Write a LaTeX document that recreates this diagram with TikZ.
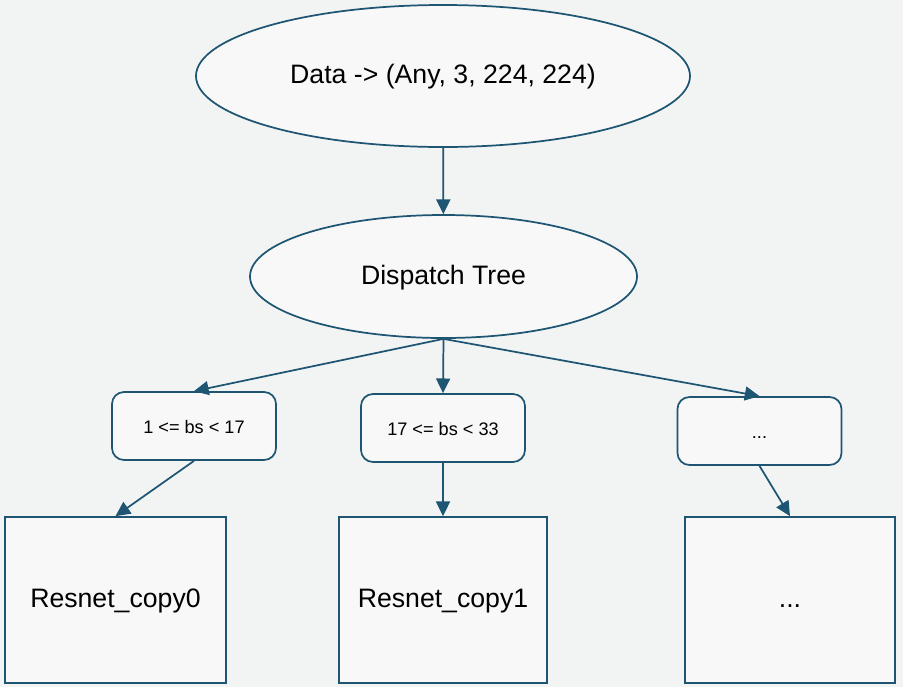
\documentclass[tikz,border=0pt]{standalone}
\usepackage{fontspec}
\setmainfont{Liberation Sans}
\usetikzlibrary{arrows.meta,shapes.geometric}
\definecolor{linecol}{HTML}{1E5572}
\definecolor{paper}{HTML}{F2F4F4}
\definecolor{boxfill}{HTML}{F8F8F8}
\begin{document}
\begin{tikzpicture}[x=0.75pt, y=-0.75pt,
  base/.style={draw=linecol, line width=1.3pt, fill=boxfill, inner sep=0pt, align=center,
               text height=1.15em, text depth=0pt},
  oval/.style={base, ellipse, font=\fontsize{20}{24}\selectfont},
  rule/.style={base, rounded corners=9pt, minimum width=123pt, minimum height=51pt,
               font=\fontsize{13.6}{16}\selectfont},
  model/.style={base, minimum height=124.5pt, font=\fontsize{20}{24}\selectfont},
  arr/.style={-{Triangle[length=11pt, width=10.5pt]}, draw=linecol, line width=1.3pt}]
\fill[paper] (0,0) rectangle (903,687);
% input and dispatcher
\node[oval, minimum width=370.5pt, minimum height=106.5pt] (data) at (443,76) {Data -> (Any, 3, 224, 224)};
\node[oval, minimum width=290.25pt, minimum height=92.25pt] (tree) at (443.5,276.5) {Dispatch Tree};
% batch size ranges
\node[rule] (c1) at (194,426) {1 <= bs < 17};
\node[rule] (c2) at (443,428) {17 <= bs < 33};
\node[rule] (c3) at (759.5,431) {...};
% model copies
\node[model, minimum width=165.75pt] (m1) at (115.5,600) {Resnet\_copy0};
\node[model, minimum width=156pt] (m2) at (443,600) {Resnet\_copy1};
\node[model, minimum width=157.5pt] (m3) at (790,600) {...};
\draw[arr] (data) -- (tree);
\draw[arr] (tree.south) -- (c1.north);
\draw[arr] (tree.south) -- (c2.north);
\draw[arr] (tree.south) -- (c3.north);
\draw[arr] (c1.south) -- (m1.north);
\draw[arr] (c2.south) -- (m2.north);
\draw[arr] (c3.south) -- (m3.north);
\end{tikzpicture}
\end{document}
